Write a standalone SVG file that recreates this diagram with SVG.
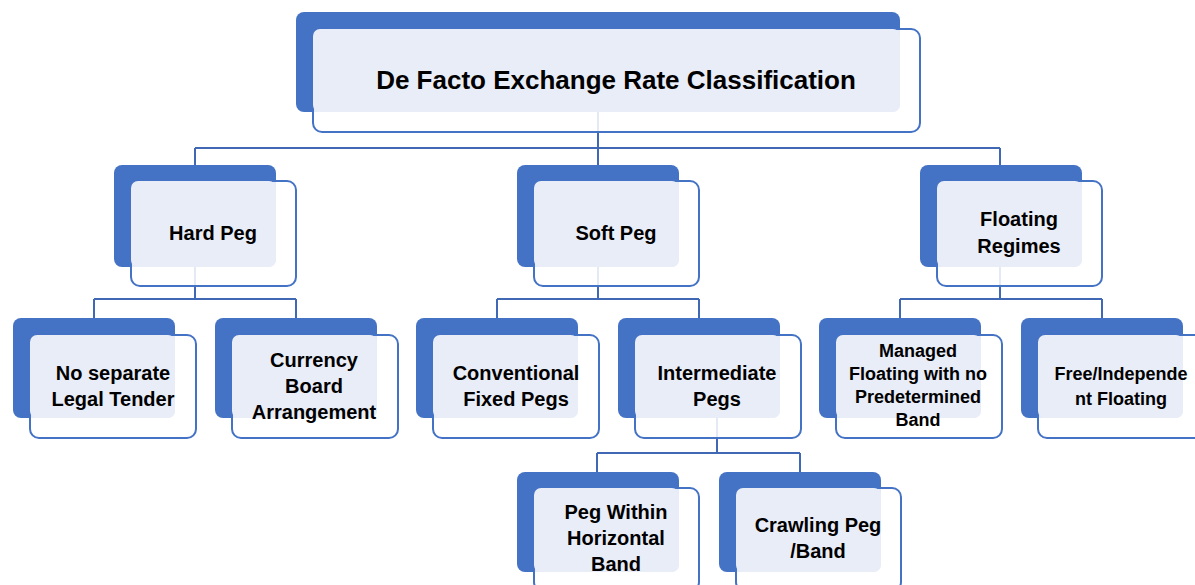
<svg xmlns="http://www.w3.org/2000/svg" width="1195" height="585" viewBox="0 0 1195 585">
  <style>
    .back { fill: #4472C4; }
    .front { fill: #ffffff; fill-opacity: 0.86; stroke: #4472C4; stroke-width: 2; }
    .inner { fill: #E9EDF7; }
    .wire { fill: none; stroke: #4068B4; stroke-width: 2; }
    .lbl { font-family: "Liberation Sans", Arial, sans-serif; font-weight: bold; font-size: 20px; fill: #000; text-anchor: middle; }
    .title { font-size: 26px; }
    .small { font-size: 18px; }
  </style>
  <rect width="1195" height="585" fill="#ffffff"/>

  <!-- tree connectors (drawn under the boxes) -->
  <g id="connectors" class="wire">
    <path d="M598 112 V148 M195 148 H1000 M195 148 V165 M598 148 V165 M1000 148 V165"/>
    <path d="M195 267 V299 M94 299 H296 M94 299 V318 M296 299 V318"/>
    <path d="M598 267 V299 M497 299 H699 M497 299 V318 M699 299 V318"/>
    <path d="M1000 267 V299 M900 299 H1102 M900 299 V318 M1102 299 V318"/>
    <path d="M717 418 V453 M597 453 H800 M597 453 V472 M800 453 V472"/>
  </g>

  <!-- root -->
  <g id="root">
    <rect class="back" x="296" y="12" width="604" height="100" rx="8"/>
    <rect class="front" x="313" y="29" width="607" height="103" rx="9"/>
    <rect class="inner" x="313" y="29" width="587" height="83" rx="7"/>
    <text class="lbl title" x="616" y="89">De Facto Exchange Rate Classification</text>
  </g>

  <!-- level 1 -->
  <g id="hard-peg">
    <rect class="back" x="114" y="165" width="162" height="102" rx="8"/>
    <rect class="front" x="131" y="181" width="165" height="105" rx="9"/>
    <rect class="inner" x="131" y="181" width="145" height="86" rx="7"/>
    <text class="lbl" x="213" y="240">Hard Peg</text>
  </g>
  <g id="soft-peg">
    <rect class="back" x="517" y="165" width="162" height="102" rx="8"/>
    <rect class="front" x="534" y="181" width="165" height="105" rx="9"/>
    <rect class="inner" x="534" y="181" width="145" height="86" rx="7"/>
    <text class="lbl" x="616" y="240">Soft Peg</text>
  </g>
  <g id="floating-regimes">
    <rect class="back" x="920" y="165" width="162" height="102" rx="8"/>
    <rect class="front" x="937" y="181" width="165" height="105" rx="9"/>
    <rect class="inner" x="937" y="181" width="145" height="86" rx="7"/>
    <text class="lbl" x="1019" y="226">Floating</text>
    <text class="lbl" x="1019" y="253">Regimes</text>
  </g>

  <!-- level 2 -->
  <g id="no-separate-legal-tender">
    <rect class="back" x="13" y="318" width="162" height="100" rx="8"/>
    <rect class="front" x="30" y="335" width="166" height="103" rx="9"/>
    <rect class="inner" x="30" y="335" width="145" height="83" rx="7"/>
    <text class="lbl" x="113" y="380">No separate</text>
    <text class="lbl" x="113" y="406">Legal Tender</text>
  </g>
  <g id="currency-board">
    <rect class="back" x="215" y="318" width="162" height="100" rx="8"/>
    <rect class="front" x="232" y="335" width="166" height="103" rx="9"/>
    <rect class="inner" x="232" y="335" width="145" height="83" rx="7"/>
    <text class="lbl" x="314" y="367">Currency</text>
    <text class="lbl" x="314" y="393">Board</text>
    <text class="lbl" x="314" y="419">Arrangement</text>
  </g>
  <g id="conventional-fixed-pegs">
    <rect class="back" x="416" y="318" width="162" height="100" rx="8"/>
    <rect class="front" x="433" y="335" width="166" height="103" rx="9"/>
    <rect class="inner" x="433" y="335" width="145" height="83" rx="7"/>
    <text class="lbl" x="516" y="380">Conventional</text>
    <text class="lbl" x="516" y="406">Fixed Pegs</text>
  </g>
  <g id="intermediate-pegs">
    <rect class="back" x="618" y="318" width="162" height="100" rx="8"/>
    <rect class="front" x="635" y="335" width="166" height="103" rx="9"/>
    <rect class="inner" x="635" y="335" width="145" height="83" rx="7"/>
    <text class="lbl" x="717" y="380">Intermediate</text>
    <text class="lbl" x="717" y="406">Pegs</text>
  </g>
  <g id="managed-floating">
    <rect class="back" x="819" y="318" width="162" height="100" rx="8"/>
    <rect class="front" x="836" y="335" width="166" height="103" rx="9"/>
    <rect class="inner" x="836" y="335" width="145" height="83" rx="7"/>
    <text class="lbl small" x="918" y="357">Managed</text>
    <text class="lbl small" x="918" y="380">Floating with no</text>
    <text class="lbl small" x="918" y="403">Predetermined</text>
    <text class="lbl small" x="918" y="426">Band</text>
  </g>
  <g id="free-floating">
    <rect class="back" x="1021" y="318" width="162" height="100" rx="8"/>
    <rect class="front" x="1038" y="335" width="166" height="103" rx="9"/>
    <rect class="inner" x="1038" y="335" width="145" height="83" rx="7"/>
    <text class="lbl small" x="1121" y="380">Free/Independe</text>
    <text class="lbl small" x="1121" y="405">nt Floating</text>
  </g>

  <!-- level 3 -->
  <g id="peg-within-band">
    <rect class="back" x="517" y="472" width="162" height="100" rx="8"/>
    <rect class="front" x="534" y="488" width="165" height="103" rx="9"/>
    <rect class="inner" x="534" y="488" width="145" height="84" rx="7"/>
    <text class="lbl" x="616" y="519">Peg Within</text>
    <text class="lbl" x="616" y="545">Horizontal</text>
    <text class="lbl" x="616" y="571">Band</text>
  </g>
  <g id="crawling-peg">
    <rect class="back" x="719" y="472" width="162" height="100" rx="8"/>
    <rect class="front" x="736" y="488" width="165" height="103" rx="9"/>
    <rect class="inner" x="736" y="488" width="145" height="84" rx="7"/>
    <text class="lbl" x="818" y="532">Crawling Peg</text>
    <text class="lbl" x="818" y="558">/Band</text>
  </g>
</svg>
